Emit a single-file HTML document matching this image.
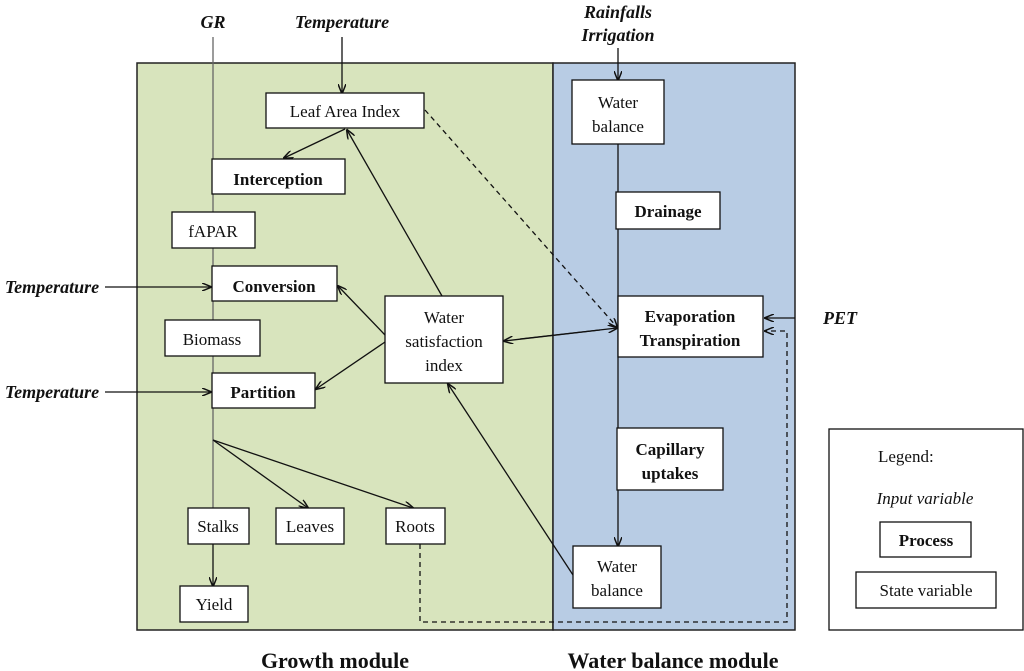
<!DOCTYPE html><html><head><style>body{margin:0;background:#fff}svg{display:block}text{font-family:"Liberation Serif",serif}</style></head><body>
<svg width="1024" height="671" viewBox="0 0 1024 671" xmlns="http://www.w3.org/2000/svg">
<defs><marker id="a" markerWidth="10" markerHeight="8" refX="9" refY="4" orient="auto" markerUnits="userSpaceOnUse"><path d="M0,0L10,4L0,8" fill="none" stroke="#111" stroke-width="1.5"/></marker></defs>
<rect x="137" y="63" width="416" height="567" fill="#d8e4bd" stroke="#222" stroke-width="1.5"/>
<rect x="553" y="63" width="242" height="567" fill="#b8cce4" stroke="#222" stroke-width="1.5"/>
<g stroke="#111" stroke-width="1.3" fill="none">
<line x1="213" y1="37" x2="213" y2="508" stroke="#666"/>
<line x1="213" y1="544" x2="213" y2="586" marker-end="url(#a)"/>
<line x1="213" y1="440" x2="308" y2="508" marker-end="url(#a)"/>
<line x1="213" y1="440" x2="413" y2="508" marker-end="url(#a)"/>
<line x1="618" y1="48" x2="618" y2="80" marker-end="url(#a)"/>
<line x1="618" y1="144" x2="618" y2="546" marker-end="url(#a)"/>
<line x1="342" y1="37" x2="342" y2="93" marker-end="url(#a)"/>
<line x1="345" y1="129" x2="284" y2="158" marker-end="url(#a)"/>
<line x1="442" y1="296" x2="347" y2="130" marker-end="url(#a)"/>
<line x1="385" y1="335" x2="338" y2="286" marker-end="url(#a)"/>
<line x1="385" y1="342" x2="316" y2="389" marker-end="url(#a)"/>
<line x1="520" y1="339" x2="617" y2="328" marker-end="url(#a)"/>
<line x1="600" y1="330" x2="504" y2="341" marker-end="url(#a)"/>
<line x1="573" y1="575" x2="448" y2="384" marker-end="url(#a)"/>
<line x1="105" y1="287" x2="211" y2="287" marker-end="url(#a)"/>
<line x1="105" y1="392" x2="211" y2="392" marker-end="url(#a)"/>
<line x1="795" y1="318" x2="765" y2="318" marker-end="url(#a)"/>
<g stroke-dasharray="5,4"><line x1="425" y1="110" x2="617" y2="327" marker-end="url(#a)"/>
<polyline points="420,544 420,622 787,622 787,331 765,331" marker-end="url(#a)"/></g>
</g>
<g fill="#fff" stroke="#111" stroke-width="1.3">
<rect x="266" y="93" width="158" height="35"/><rect x="212" y="159" width="133" height="35"/>
<rect x="172" y="212" width="83" height="36"/><rect x="212" y="266" width="125" height="35"/>
<rect x="165" y="320" width="95" height="36"/><rect x="212" y="373" width="103" height="35"/>
<rect x="385" y="296" width="118" height="87"/><rect x="572" y="80" width="92" height="64"/>
<rect x="616" y="192" width="104" height="37"/><rect x="618" y="296" width="145" height="61"/>
<rect x="617" y="428" width="106" height="62"/><rect x="573" y="546" width="88" height="62"/>
<rect x="188" y="508" width="61" height="36"/><rect x="276" y="508" width="68" height="36"/>
<rect x="386" y="508" width="59" height="36"/><rect x="180" y="586" width="68" height="36"/>
<rect x="829" y="429" width="194" height="201"/><rect x="880" y="522" width="91" height="35"/>
<rect x="856" y="572" width="140" height="36"/>
</g>
<g font-size="17" text-anchor="middle" fill="#111">
<text x="345" y="117">Leaf Area Index</text><text x="278" y="185" font-weight="bold">Interception</text>
<text x="213" y="237">fAPAR</text><text x="274" y="292" font-weight="bold">Conversion</text>
<text x="212" y="345">Biomass</text><text x="263" y="398" font-weight="bold">Partition</text>
<text x="444" y="323">Water</text><text x="444" y="347">satisfaction</text><text x="444" y="371">index</text>
<text x="618" y="108">Water</text><text x="618" y="132">balance</text>
<text x="668" y="217" font-weight="bold">Drainage</text>
<text x="690" y="322" font-weight="bold">Evaporation</text><text x="690" y="346" font-weight="bold">Transpiration</text>
<text x="670" y="455" font-weight="bold">Capillary</text><text x="670" y="479" font-weight="bold">uptakes</text>
<text x="617" y="572">Water</text><text x="617" y="596">balance</text>
<text x="218" y="532">Stalks</text><text x="310" y="532">Leaves</text><text x="415" y="532">Roots</text>
<text x="214" y="610">Yield</text>
<text x="878" y="462" text-anchor="start">Legend:</text>
<text x="925" y="504" font-style="italic">Input variable</text>
<text x="926" y="546" font-weight="bold">Process</text><text x="926" y="596">State variable</text>
</g>
<g font-size="18" font-style="italic" font-weight="bold" text-anchor="middle" fill="#111">
<text x="213" y="28">GR</text><text x="342" y="28">Temperature</text>
<text x="618" y="18">Rainfalls</text><text x="618" y="41">Irrigation</text>
<text x="52" y="293">Temperature</text><text x="52" y="398">Temperature</text>
<text x="840" y="324">PET</text>
</g>
<g font-size="22" font-weight="bold" text-anchor="middle" fill="#111">
<text x="335" y="668">Growth module</text><text x="673" y="668">Water balance module</text>
</g>
</svg></body></html>
